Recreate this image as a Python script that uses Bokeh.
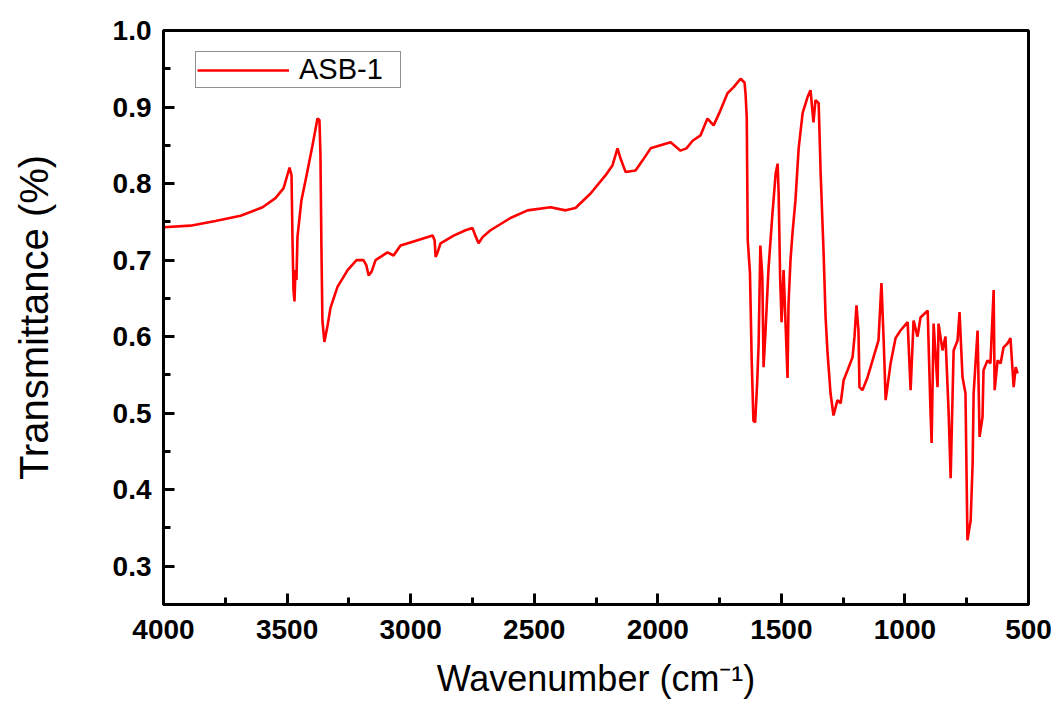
from bokeh.plotting import figure
from bokeh.models import Range1d, SingleIntervalTicker, NumeralTickFormatter, Legend, LegendItem
from bokeh.embed import file_html
from bokeh.resources import INLINE

# Spectrum trace (wavenumber in cm^-1, transmittance)
wavenumber = [4000, 3891, 3790, 3688, 3599, 3547, 3514, 3490, 3482, 3478, 3474, 3470, 3466, 3462,
              3458, 3442, 3421, 3397, 3377, 3369, 3365, 3361, 3357, 3349, 3336, 3324, 3296, 3255,
              3219, 3191, 3179, 3170, 3158, 3142, 3094, 3081, 3069, 3041, 2972, 2911, 2903, 2899,
              2891, 2879, 2826, 2778, 2750, 2737, 2725, 2709, 2677, 2596, 2527, 2434, 2373, 2333,
              2272, 2211, 2183, 2163, 2151, 2130, 2090, 2062, 2029, 1989, 1948, 1908, 1884, 1859,
              1827, 1799, 1774, 1746, 1718, 1693, 1665, 1649, 1645, 1640, 1636, 1627, 1620, 1613,
              1606, 1598, 1592, 1585, 1577, 1572, 1564, 1552, 1536, 1523, 1515, 1511, 1505, 1499,
              1491, 1475, 1471, 1463, 1455, 1443, 1430, 1414, 1394, 1382, 1370, 1362, 1349, 1341,
              1329, 1321, 1313, 1301, 1289, 1273, 1260, 1248, 1232, 1212, 1204, 1196, 1188, 1184,
              1172, 1151, 1131, 1107, 1095, 1086, 1078, 1058, 1038, 1018, 989, 977, 965, 949, 937,
              908, 896, 892, 884, 868, 864, 848, 836, 823, 815, 803, 787, 779, 767, 755, 747, 734,
              726, 722, 706, 698, 686, 682, 666, 654, 641, 637, 625, 613, 601, 585, 573, 560, 552,
              544]
transmittance = [0.743, 0.745, 0.751, 0.758, 0.769, 0.781, 0.794, 0.821, 0.811, 0.726, 0.661, 0.646,
                 0.687, 0.674, 0.730, 0.778, 0.811, 0.850, 0.885, 0.883, 0.839, 0.717, 0.621, 0.593,
                 0.615, 0.638, 0.665, 0.687, 0.700, 0.700, 0.693, 0.680, 0.685, 0.700, 0.710, 0.708,
                 0.706, 0.719, 0.726, 0.732, 0.726, 0.704, 0.710, 0.722, 0.732, 0.739, 0.742, 0.731,
                 0.722, 0.730, 0.739, 0.755, 0.765, 0.769, 0.765, 0.768, 0.787, 0.811, 0.824, 0.846,
                 0.833, 0.815, 0.817, 0.830, 0.846, 0.850, 0.854, 0.843, 0.846, 0.856, 0.863, 0.885,
                 0.876, 0.896, 0.918, 0.926, 0.937, 0.932, 0.918, 0.886, 0.726, 0.683, 0.569, 0.490,
                 0.488, 0.539, 0.590, 0.719, 0.678, 0.560, 0.608, 0.689, 0.761, 0.813, 0.826, 0.787,
                 0.678, 0.619, 0.687, 0.546, 0.643, 0.700, 0.735, 0.778, 0.846, 0.892, 0.913, 0.922,
                 0.880, 0.909, 0.905, 0.813, 0.709, 0.625, 0.578, 0.526, 0.497, 0.517, 0.513, 0.543,
                 0.556, 0.573, 0.600, 0.641, 0.608, 0.534, 0.530, 0.547, 0.569, 0.595, 0.670, 0.595,
                 0.517, 0.565, 0.598, 0.608, 0.619, 0.530, 0.621, 0.600, 0.625, 0.634, 0.497, 0.461,
                 0.617, 0.534, 0.617, 0.582, 0.600, 0.500, 0.415, 0.582, 0.595, 0.632, 0.547, 0.526,
                 0.334, 0.360, 0.435, 0.526, 0.608, 0.469, 0.495, 0.556, 0.569, 0.565, 0.661, 0.530,
                 0.569, 0.565, 0.586, 0.591, 0.598, 0.534, 0.560, 0.552]

series_name = "ASB-1"
x_label = "Wavenumber (cm\u207b\u00b9)"
y_label = "Transmittance (%)"

p = figure(width=1052, height=702, output_backend="svg", toolbar_location=None,
           x_range=Range1d(4000, 500), y_range=Range1d(0.25, 1.0),
           min_border_left=163, min_border_right=24, min_border_top=30, min_border_bottom=98)
p.xgrid.visible = False
p.ygrid.visible = False
p.outline_line_color = "black"
p.outline_line_width = 3
p.background_fill_color = "white"
p.border_fill_color = "white"

line = p.line(wavenumber, transmittance, line_color="#ff0000", line_width=2.6)

p.xaxis.ticker = SingleIntervalTicker(interval=500, num_minor_ticks=2)
p.yaxis.ticker = SingleIntervalTicker(interval=0.1, num_minor_ticks=2)
p.yaxis.formatter = NumeralTickFormatter(format="0.0")

for ax in (p.xaxis[0], p.yaxis[0]):
    ax.axis_line_width = 3
    ax.axis_line_color = "black"
    ax.major_tick_in = 11
    ax.major_tick_out = 0
    ax.minor_tick_in = 7
    ax.minor_tick_out = 0
    ax.major_tick_line_width = 3
    ax.minor_tick_line_width = 3
    ax.major_label_text_font = "Liberation Sans"
    ax.major_label_text_font_style = "bold"
    ax.major_label_text_font_size = "28px"
    ax.major_label_text_color = "black"
    ax.axis_label_text_font = "Liberation Sans"
    ax.axis_label_text_font_style = "normal"
    ax.axis_label_text_color = "black"

p.xaxis.axis_label = x_label
p.yaxis.axis_label = y_label
p.xaxis.axis_label_text_font_size = "36px"
p.yaxis.axis_label_text_font_size = "40px"
p.xaxis.major_label_standoff = 15
p.yaxis.major_label_standoff = 12
p.xaxis.axis_label_standoff = 16
p.yaxis.axis_label_standoff = 54

legend = Legend(items=[LegendItem(label=series_name, renderers=[line])],
                location=(32, 516), padding=1, margin=0, spacing=0,
                glyph_width=92, glyph_height=20, label_standoff=10, label_width=100,
                label_text_font="Liberation Sans", label_text_font_size="29px",
                label_text_color="black",
                border_line_color="#222222", border_line_width=1.5,
                background_fill_color="white", background_fill_alpha=1.0)
p.add_layout(legend)

open("out.html", "w").write(file_html(p, INLINE))
